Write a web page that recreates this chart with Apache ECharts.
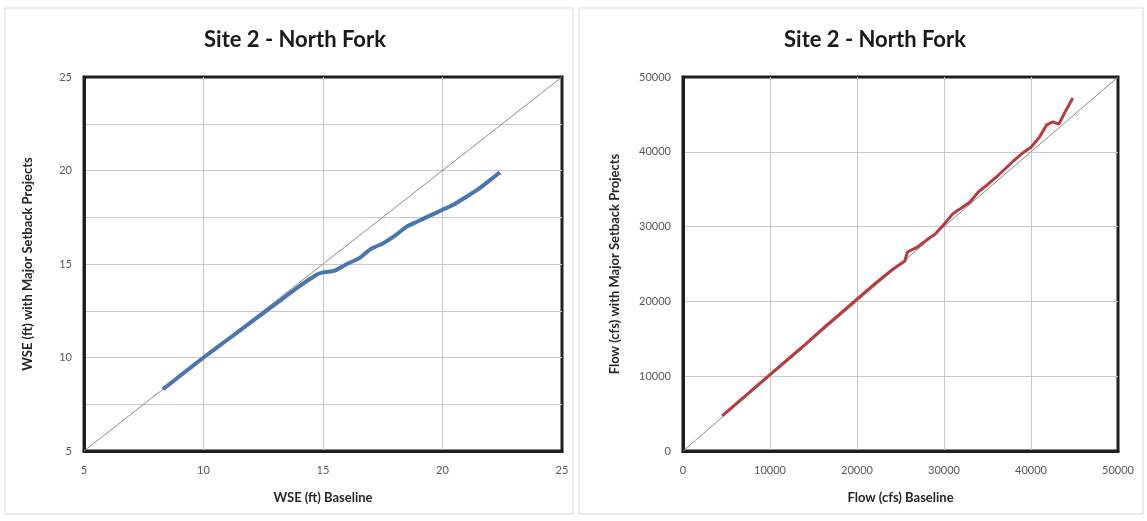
<!DOCTYPE html>
<html>
<head>
<meta charset="utf-8">
<script src="https://cdn.jsdelivr.net/npm/echarts@6/dist/echarts.min.js"></script>
<style>
  html, body { margin: 0; padding: 0; background: #fff; }
  #main { width: 1147px; height: 521px; }
</style>
</head>
<body>
<div id="main"></div>
<script>
// WSE (ft): baseline vs with major setback projects
var wseBase = [8.3, 9.0, 9.5, 10.0, 11.0, 12.0, 13.0, 14.0, 14.7, 15.0, 15.5, 16.0, 16.5, 17.0, 17.5, 18.0, 18.5, 19.0, 19.5, 20.0, 20.5, 21.0, 21.5, 22.0, 22.4]
var wseSetback = [8.3, 9.0, 9.5, 10.0, 10.95, 11.9, 12.85, 13.8, 14.4, 14.55, 14.65, 15.0, 15.3, 15.8, 16.1, 16.5, 17.0, 17.3, 17.6, 17.9, 18.2, 18.6, 19.0, 19.5, 19.9]

// Flow (cfs): baseline vs with major setback projects
var flowBase = [4500, 6000, 8000, 10000, 12000, 14000, 16000, 18000, 20000, 22000, 24000, 25500, 25800, 27000, 28000, 29000, 30000, 31000, 32000, 33000, 34000, 35000, 36000, 37000, 38000, 39000, 40000, 41000, 41800, 42500, 43200, 44000, 44800]
var flowSetback = [4700, 6200, 8200, 10200, 12200, 14200, 16300, 18300, 20300, 22300, 24200, 25400, 26600, 27300, 28200, 29000, 30300, 31700, 32500, 33300, 34700, 35600, 36600, 37700, 38800, 39800, 40600, 42000, 43600, 44000, 43700, 45500, 47200]

var wseRange = [5, 25]
var flowRange = [0, 50000]

function pairs (xs, ys) {
  return xs.map(function (x, i) { return [x, ys[i]] })
}

var labelStyle = { color: '#595959', fontSize: 11, fontFamily: 'Lato' }
var nameStyle = { color: '#262626', fontSize: 13, fontWeight: 'bold', fontFamily: 'Lato' }
var gridLine = { show: true, showMinLine: false, showMaxLine: false, lineStyle: { color: '#c8c8c8', width: 1 } }
var frameLine = { show: true, lineStyle: { color: '#1e1e1e', width: 3 } }

var myChart = echarts.init(document.getElementById('main'))
myChart.setOption({
  animation: false,
  title: [
    {
      text: 'Site 2 - North Fork',
      left: 290,
      top: 24,
      textAlign: 'center',
      textStyle: { fontSize: 22, fontWeight: 'bold', color: '#1a1a1a', fontFamily: 'Lato' }
    },
    {
      text: 'Site 2 - North Fork',
      left: 870,
      top: 24,
      textAlign: 'center',
      textStyle: { fontSize: 22, fontWeight: 'bold', color: '#1a1a1a', fontFamily: 'Lato' }
    }
  ],
  graphic: [
    { type: 'rect', shape: { x: 5, y: 8, width: 568, height: 506 }, style: { fill: 'none', stroke: '#d9d9d9', lineWidth: 1 }, z: -10 },
    { type: 'rect', shape: { x: 579, y: 8, width: 564, height: 506 }, style: { fill: 'none', stroke: '#d9d9d9', lineWidth: 1 }, z: -10 }
  ],
  grid: [
    { left: 84, right: 585, top: 77, bottom: 70, show: true, borderColor: '#1e1e1e', borderWidth: 3 },
    { left: 683, right: 29, top: 77, bottom: 70, show: true, borderColor: '#1e1e1e', borderWidth: 3 }
  ],
  xAxis: [
    {
      gridIndex: 0,
      type: 'value',
      min: wseRange[0],
      max: wseRange[1],
      interval: 5,
      name: 'WSE (ft) Baseline',
      nameLocation: 'middle',
      nameGap: 40,
      nameTextStyle: nameStyle,
      axisLine: frameLine,
      axisTick: { show: false },
      axisLabel: Object.assign({ margin: 14 }, labelStyle),
      splitLine: gridLine
    },
    {
      gridIndex: 1,
      type: 'value',
      min: flowRange[0],
      max: flowRange[1],
      interval: 10000,
      name: 'Flow (cfs) Baseline',
      nameLocation: 'middle',
      nameGap: 40,
      nameTextStyle: nameStyle,
      axisLine: frameLine,
      axisTick: { show: false },
      axisLabel: Object.assign({ margin: 14, formatter: function (v) { return String(v) } }, labelStyle),
      splitLine: gridLine
    }
  ],
  yAxis: [
    {
      gridIndex: 0,
      type: 'value',
      min: wseRange[0],
      max: wseRange[1],
      interval: 2.5,
      name: 'WSE (ft) with Major Setback Projects',
      nameLocation: 'middle',
      nameGap: 50,
      nameTextStyle: nameStyle,
      axisLine: frameLine,
      axisTick: { show: false },
      axisLabel: Object.assign({
        margin: 12,
        formatter: function (v) { return v % 5 === 0 ? String(v) : '' }
      }, labelStyle),
      splitLine: gridLine
    },
    {
      gridIndex: 1,
      type: 'value',
      min: flowRange[0],
      max: flowRange[1],
      interval: 10000,
      name: 'Flow (cfs) with Major Setback Projects',
      nameLocation: 'middle',
      nameGap: 62,
      nameTextStyle: nameStyle,
      axisLine: frameLine,
      axisTick: { show: false },
      axisLabel: Object.assign({ margin: 12, formatter: function (v) { return String(v) } }, labelStyle),
      splitLine: gridLine
    }
  ],
  series: [
    {
      type: 'line',
      xAxisIndex: 0,
      yAxisIndex: 0,
      data: [[wseRange[0], wseRange[0]], [wseRange[1], wseRange[1]]],
      symbol: 'none',
      lineStyle: { color: '#8c8c8c', width: 1 },
      z: 1
    },
    {
      type: 'line',
      xAxisIndex: 0,
      yAxisIndex: 0,
      data: pairs(wseBase, wseSetback),
      symbol: 'none',
      smooth: 0.2,
      lineStyle: { color: '#4a76b0', width: 4 },
      z: 2
    },
    {
      type: 'line',
      xAxisIndex: 1,
      yAxisIndex: 1,
      data: [[flowRange[0], flowRange[0]], [flowRange[1], flowRange[1]]],
      symbol: 'none',
      lineStyle: { color: '#8c8c8c', width: 1 },
      z: 1
    },
    {
      type: 'line',
      xAxisIndex: 1,
      yAxisIndex: 1,
      data: pairs(flowBase, flowSetback),
      symbol: 'none',
      lineStyle: { color: '#b83c3c', width: 3 },
      z: 2
    }
  ]
})

window.onresize = function () {
  myChart.resize()
}
</script>
</body>
</html>
